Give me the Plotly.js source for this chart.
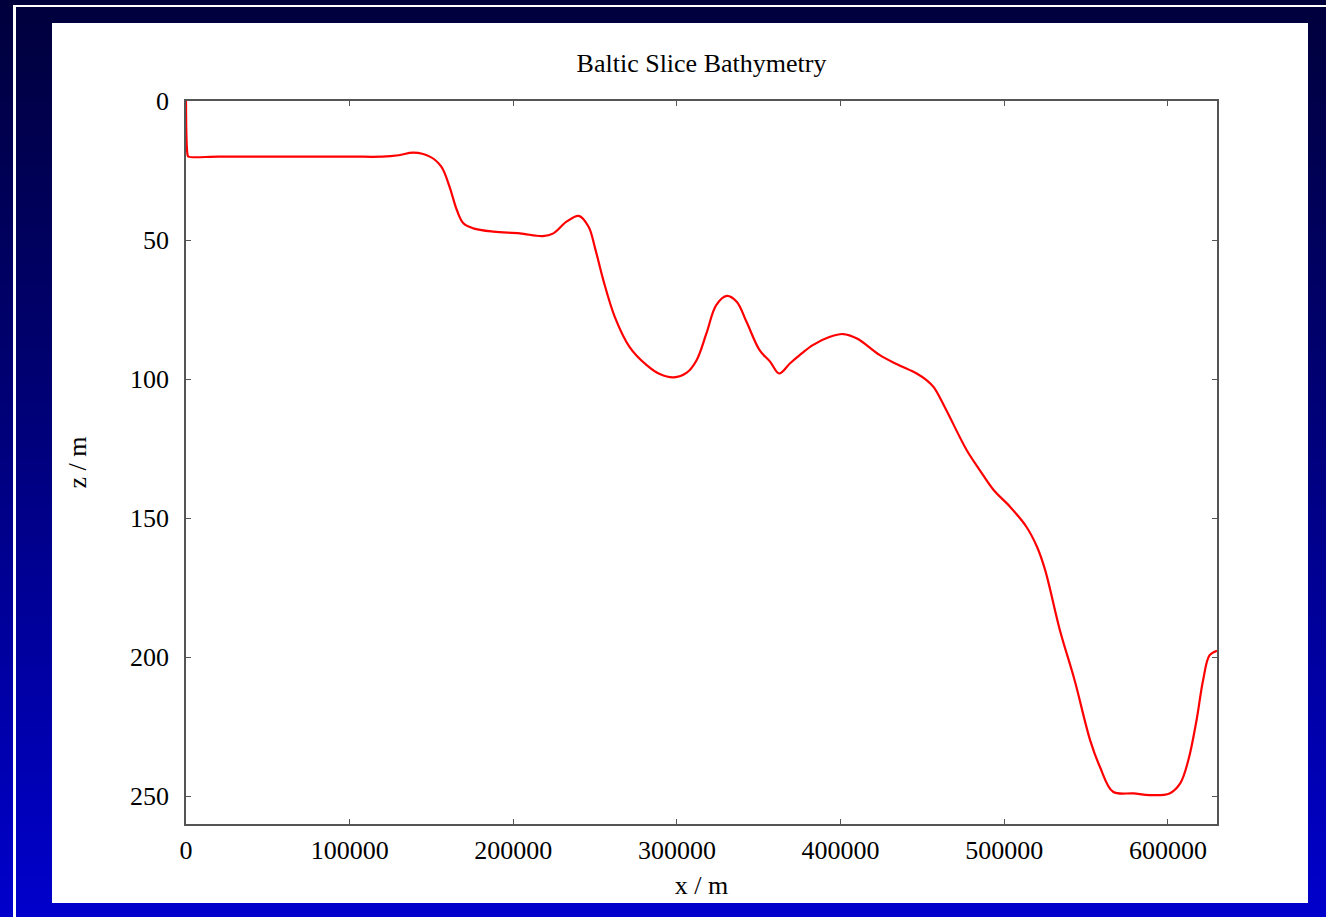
<!DOCTYPE html>
<html>
<head>
<meta charset="utf-8">
<script src="https://cdn.plot.ly/plotly-3.0.1.min.js"></script>
<style>
  html, body { margin:0; padding:0; width:1326px; height:917px; overflow:hidden; }
  body { background: linear-gradient(to bottom, #00003c 0%, #000070 40%, #0000cc 100%); position:relative; }
  #hline { position:absolute; left:13px; top:5px; width:1313px; height:2px; background:#fff; }
  #vline { position:absolute; left:13px; top:5px; width:3px; height:912px; background:#fff; }
  #chart { position:absolute; left:52px; top:23px; width:1256px; height:880px; background:#fff; }
</style>
</head>
<body>
<div id="hline"></div>
<div id="vline"></div>
<div id="chart"></div>
<script>
const distance = [0, 1000, 1500, 20000, 60000, 100000, 120000, 130000, 139000, 149000, 156000, 161000, 165500, 169500, 175500, 188000, 204000, 218000, 224500, 232500, 240000, 246000, 250000, 255000, 262000, 271000, 281500, 289500, 298000, 306000, 312000, 318000, 324000, 330500, 336500, 342500, 350500, 357000, 362500, 369000, 375000, 383000, 393500, 401500, 410000, 424000, 434500, 446500, 452500, 457000, 464000, 477000, 485000, 493500, 503500, 513500, 520000, 525000, 534000, 543000, 552500, 558500, 566500, 579000, 589000, 601000, 607500, 612500, 617500, 621500, 625500, 630000];
const depth = [0, 19.5, 20, 20, 20, 20, 20, 19.5, 18.6, 20, 23.6, 30.8, 39.2, 44, 45.8, 47, 47.6, 48.6, 47.6, 43.4, 41.3, 45.2, 53, 64.4, 77.6, 88.4, 95, 98.2, 99.4, 97.7, 93.2, 83.6, 73.4, 70.1, 72.2, 79.4, 89.6, 93.8, 98, 94.4, 91.4, 87.8, 84.8, 83.8, 85.4, 91.4, 94.7, 98, 100.4, 103, 110.5, 125.5, 132.7, 139.9, 145.9, 153.1, 160.3, 168.7, 190.3, 208.3, 229.9, 239.5, 248.4, 249, 249.6, 249, 245.4, 237, 222.7, 208.3, 199.3, 197.7];

const titleText = 'Baltic Slice Bathymetry';
const xLabel = 'x / m';
const yLabel = 'z / m';
const xTicks = [0, 100000, 200000, 300000, 400000, 500000, 600000];
const yTicks = [0, 50, 100, 150, 200, 250];

const font = {family: '"Liberation Serif", "Times New Roman", serif', size: 26, color: '#000'};

const trace = {
  x: distance, y: depth, type: 'scatter', mode: 'lines',
  line: {color: '#ff0000', width: 2.2, shape: 'spline', smoothing: 1},
  hoverinfo: 'x+y'
};

const axisCommon = {
  showgrid: false, zeroline: false, showline: true, linecolor: '#555', linewidth: 1.5,
  mirror: 'ticks', ticks: 'inside', ticklen: 5, tickcolor: '#555', tickwidth: 1,
  tickfont: font
};

const layout = {
  width: 1256, height: 880,
  paper_bgcolor: '#fff', plot_bgcolor: '#fff',
  margin: {l: 134, r: 91, t: 78, b: 79},
  showlegend: false,
  font: font,
  title: {text: titleText, font: font, x: 0.5, xref: 'paper', y: 1 - 40/880, yref: 'container', yanchor: 'middle'},
  xaxis: Object.assign({}, axisCommon, {
    range: [0, 630000], tickvals: xTicks, ticktext: xTicks.map(String),
    ticklabelstandoff: 2,
    title: {text: xLabel, font: font, standoff: 12}
  }),
  yaxis: Object.assign({}, axisCommon, {
    range: [260, 0], tickvals: yTicks, ticktext: yTicks.map(String),
    ticklabelstandoff: 10,
    title: {text: yLabel, font: font, standoff: 36}
  })
};

Plotly.newPlot('chart', [trace], layout, {displayModeBar: false});
</script>
</body>
</html>
